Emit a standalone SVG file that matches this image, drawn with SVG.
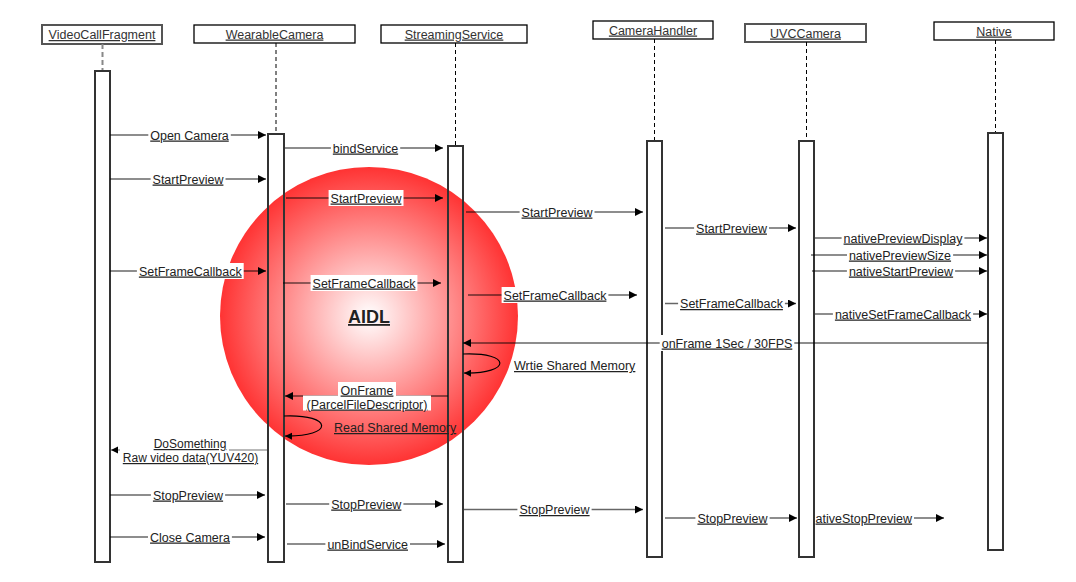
<svg xmlns="http://www.w3.org/2000/svg" width="1076" height="582" viewBox="0 0 1076 582">
<style>
.hdr{fill:#fff;stroke:#000;stroke-width:1.3}
.hdr2{fill:#fff;stroke:#555;stroke-width:2}
.ht{font-family:"Liberation Sans",Arial,sans-serif;font-size:12.5px;fill:#333;text-anchor:middle;text-decoration:underline}
.life{stroke:#000;stroke-width:1;stroke-dasharray:4 3;fill:none}
.life2{stroke:#888;stroke-width:2;stroke-dasharray:5 3;fill:none}
.bar{fill:#fff;stroke:#333;stroke-width:2}
.barT{fill:none;stroke:#333;stroke-width:2}
.msg{stroke:#000;stroke-opacity:0.6;stroke-width:1.6;fill:none}
.thin{stroke:#000;stroke-opacity:0.55;stroke-width:1;fill:none}
.loop{stroke:#000;stroke-width:1.2;fill:none}
.lb{fill:#fff}
.lbl{font-family:"Liberation Sans",Arial,sans-serif;font-size:12.5px;fill:#222;text-anchor:middle;text-decoration:underline}
.lbs{font-family:"Liberation Sans",Arial,sans-serif;font-size:12.5px;fill:#222;text-anchor:start;text-decoration:underline}
.aidl{font-family:"Liberation Sans",Arial,sans-serif;font-size:18px;font-weight:bold;fill:#222;text-anchor:middle;text-decoration:underline}
</style>
<defs>
<radialGradient id="rg" cx="0.5" cy="0.5" r="0.5">
<stop offset="0" stop-color="#ffffff"/>
<stop offset="1" stop-color="#ff3333"/>
</radialGradient>
<marker id="ah" markerWidth="9" markerHeight="9" refX="8" refY="4" orient="auto" markerUnits="userSpaceOnUse"><path d="M0,0 L8,4 L0,8 z" fill="#000"/></marker>
<marker id="ahs" markerWidth="8" markerHeight="8" refX="7" refY="3.5" orient="auto" markerUnits="userSpaceOnUse"><path d="M0,0 L7,3.5 L0,7 z" fill="#000"/></marker>
</defs>
<rect width="1076" height="582" fill="#fff"/>

<g id="aidl">
<circle cx="369" cy="316" r="149" fill="url(#rg)"/>
<text class="aidl" x="369" y="323">AIDL</text>
</g>

<g id="VideoCallFragment">
<rect class="hdr2" x="42" y="25" width="120" height="19"/>
<text class="ht" x="102" y="39">VideoCallFragment</text>
<line class="life2" x1="102.5" y1="44" x2="102.5" y2="71"/>
<rect class="bar" x="95" y="71" width="15" height="491"/>
</g>
<g id="WearableCamera">
<rect class="hdr" x="194" y="25" width="161" height="18"/>
<text class="ht" x="274.5" y="38.5">WearableCamera</text>
<line class="life" x1="276" y1="43" x2="276" y2="134"/>
<rect class="barT" x="268" y="134" width="16" height="428"/>
</g>
<g id="StreamingService">
<rect class="hdr" x="381" y="25" width="146" height="18"/>
<text class="ht" x="454" y="38.5">StreamingService</text>
<line class="life" x1="455.5" y1="43" x2="455.5" y2="146"/>
<rect class="barT" x="448" y="146" width="15" height="416"/>
</g>
<g id="CameraHandler">
<rect class="hdr" x="593" y="21" width="120" height="18"/>
<text class="ht" x="653" y="34.5">CameraHandler</text>
<line class="life" x1="654.5" y1="39" x2="654.5" y2="141"/>
<rect class="bar" x="647" y="141" width="15" height="416"/>
</g>
<g id="UVCCamera">
<rect class="hdr2" x="745" y="24" width="121" height="18"/>
<text class="ht" x="805.5" y="37.5">UVCCamera</text>
<line class="life" x1="806.5" y1="42" x2="806.5" y2="141"/>
<rect class="bar" x="799" y="141" width="15" height="416"/>
</g>
<g id="Native">
<rect class="hdr" x="934" y="22" width="120" height="18"/>
<text class="ht" x="994" y="35.5">Native</text>
<line class="life" x1="995.5" y1="40" x2="995.5" y2="133"/>
<rect class="bar" x="988" y="133" width="15" height="417"/>
</g>

<g id="connectors">
<line class="msg" x1="110" y1="135" x2="266" y2="135" marker-end="url(#ah)"/>
<rect class="lb" x="148.3" y="127" width="82.5" height="16"/>
<text class="lbl" x="189.5" y="139.5">Open Camera</text>

<line class="msg" x1="285" y1="148" x2="443" y2="148" marker-end="url(#ah)"/>
<rect class="lb" x="330.9" y="140" width="69.3" height="16"/>
<text class="lbl" x="365.5" y="152.5">bindService</text>

<line class="msg" x1="110" y1="179" x2="266" y2="179" marker-end="url(#ah)"/>
<rect class="lb" x="150.6" y="171" width="74.9" height="16"/>
<text class="lbl" x="188" y="183.5">StartPreview</text>

<line class="msg" x1="286" y1="198" x2="443" y2="198" marker-end="url(#ah)"/>
<rect class="lb" x="328.6" y="190" width="74.9" height="16"/>
<text class="lbl" x="366" y="202.5">StartPreview</text>

<line class="msg" x1="466" y1="212" x2="643" y2="212" marker-end="url(#ah)"/>
<rect class="lb" x="519.6" y="204" width="74.9" height="16"/>
<text class="lbl" x="557" y="216.5">StartPreview</text>

<line class="msg" x1="665" y1="228" x2="796" y2="228" marker-end="url(#ah)"/>
<rect class="lb" x="694.1" y="220" width="74.9" height="16"/>
<text class="lbl" x="731.5" y="232.5">StartPreview</text>

<line class="msg" x1="815" y1="238" x2="987" y2="238" marker-end="url(#ah)"/>
<rect class="lb" x="841.6" y="230" width="122.8" height="16"/>
<text class="lbl" x="903" y="242.5">nativePreviewDisplay</text>

<line class="msg" x1="811" y1="255" x2="987" y2="255" marker-end="url(#ah)"/>
<rect class="lb" x="847" y="247" width="106.1" height="16"/>
<text class="lbl" x="900" y="259.5">nativePreviewSize</text>

<line class="msg" x1="812" y1="271" x2="987" y2="271" marker-end="url(#ah)"/>
<rect class="lb" x="846.9" y="263" width="108.2" height="16"/>
<text class="lbl" x="901" y="275.5">nativeStartPreview</text>

<line class="msg" x1="110" y1="271" x2="266" y2="271" marker-end="url(#ah)"/>
<rect class="lb" x="136.9" y="263" width="106.8" height="16"/>
<text class="lbl" x="190.3" y="275.5">SetFrameCallback</text>

<line class="msg" x1="283" y1="283" x2="441" y2="283" marker-end="url(#ah)"/>
<rect class="lb" x="310.6" y="275" width="106.8" height="16"/>
<text class="lbl" x="364" y="287.5">SetFrameCallback</text>

<line class="msg" x1="468" y1="295" x2="637" y2="295" marker-end="url(#ah)"/>
<rect class="lb" x="501.6" y="287" width="106.8" height="16"/>
<text class="lbl" x="555" y="299.5">SetFrameCallback</text>

<line class="msg" x1="665" y1="303.5" x2="796" y2="303.5" marker-end="url(#ah)"/>
<rect class="lb" x="678.1" y="295.5" width="106.8" height="16"/>
<text class="lbl" x="731.5" y="308">SetFrameCallback</text>

<line class="msg" x1="815" y1="314" x2="987" y2="314" marker-end="url(#ah)"/>
<rect class="lb" x="832.9" y="306" width="140.2" height="16"/>
<text class="lbl" x="903" y="318.5">nativeSetFrameCallback</text>

<line class="msg" x1="988" y1="343" x2="463" y2="343" marker-end="url(#ah)"/>
<rect class="lb" x="659.7" y="335" width="134.6" height="16"/>
<text class="lbl" x="727" y="347.5">onFrame 1Sec / 30FPS</text>

<path class="loop" d="M463,354 C512,352 512,374 464,373" marker-end="url(#ahs)"/>
<text class="lbs" x="514" y="370">Wrtie Shared Memory</text>

<line class="msg" x1="448" y1="396" x2="285" y2="396" marker-end="url(#ah)"/>
<rect class="lb" x="338" y="382" width="58" height="14"/>
<rect class="lb" x="303" y="395.5" width="128" height="15"/>
<text class="lbl" x="367" y="394.5">OnFrame </text>
<text class="lbl" x="367" y="408.5">(ParcelFileDescriptor)</text>

<path class="loop" d="M284,416 C334,414 334,437 285,436" marker-end="url(#ahs)"/>
<text class="lbs" x="334" y="432">Read Shared Memory</text>

<line class="thin" x1="267" y1="450" x2="111" y2="450" marker-end="url(#ahs)"/>
<rect class="lb" x="120" y="437" width="109" height="14"/>
<text class="lbl" x="190" y="448" style="font-size:12px">DoSomething </text>
<text class="lbl" x="190.5" y="462" style="font-size:12px">Raw video data(YUV420)</text>

<line class="msg" x1="110" y1="495" x2="265" y2="495" marker-end="url(#ah)"/>
<rect class="lb" x="150.9" y="487" width="74.2" height="16"/>
<text class="lbl" x="188" y="499.5">StopPreview</text>

<line class="msg" x1="286" y1="504" x2="443" y2="504" marker-end="url(#ah)"/>
<rect class="lb" x="329.2" y="496" width="74.2" height="16"/>
<text class="lbl" x="366.3" y="508.5">StopPreview</text>

<line class="msg" x1="464" y1="509.5" x2="643" y2="509.5" marker-end="url(#ah)"/>
<rect class="lb" x="517.4" y="501.5" width="74.2" height="16"/>
<text class="lbl" x="554.5" y="514">StopPreview</text>

<line class="msg" x1="665" y1="518" x2="797" y2="518" marker-end="url(#ah)"/>
<rect class="lb" x="695.4" y="510" width="74.2" height="16"/>
<text class="lbl" x="732.5" y="522.5">StopPreview</text>

<line class="msg" x1="815" y1="518" x2="944" y2="518" marker-end="url(#ah)"/>
<rect class="lb" x="815" y="510" width="99" height="16"/>
<text class="lbs" x="815.5" y="522.5">ativeStopPreview</text>

<line class="msg" x1="110" y1="537" x2="265" y2="537" marker-end="url(#ah)"/>
<rect class="lb" x="148" y="529" width="83.9" height="16"/>
<text class="lbl" x="190" y="541.5">Close Camera</text>

<line class="msg" x1="287" y1="544" x2="445" y2="544" marker-end="url(#ah)"/>
<rect class="lb" x="325.4" y="536" width="84.6" height="16"/>
<text class="lbl" x="367.7" y="548.5">unBindService</text>
</g>
</svg>
